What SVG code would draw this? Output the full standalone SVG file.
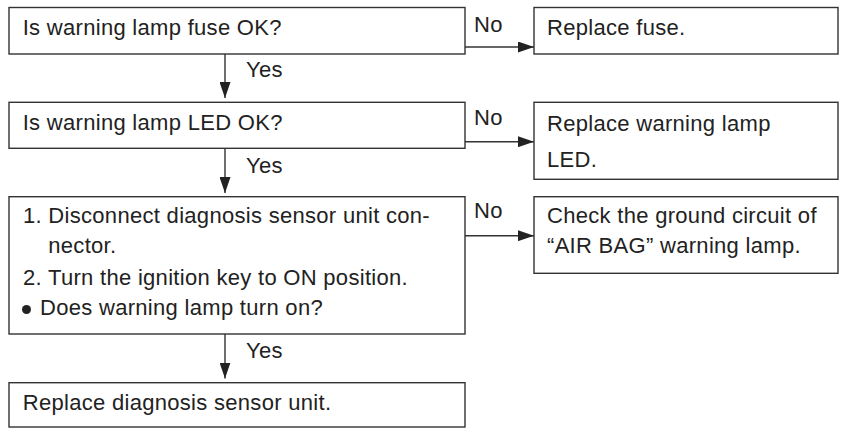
<svg xmlns="http://www.w3.org/2000/svg" width="842" height="429" viewBox="0 0 842 429">
<style>
.box{fill:#ffffff;stroke:#333333;stroke-width:1.4}
.ln{fill:none;stroke:#333333;stroke-width:1.4}
text{font-family:"Liberation Sans",Arial,Helvetica,sans-serif;font-size:22px;fill:#222222;letter-spacing:0.3px}
</style>
<defs>
<marker id="ah" markerWidth="16" markerHeight="11" refX="16" refY="5.5" orient="auto" markerUnits="userSpaceOnUse">
<path d="M0,0 L16,5.5 L0,11 Z" fill="#222222"/>
</marker>
</defs>
<rect width="842" height="429" fill="#ffffff"/>
<g id="connectors">
<line class="ln" x1="465" y1="47" x2="534" y2="47" marker-end="url(#ah)"/>
<line class="ln" x1="225" y1="54" x2="225" y2="98" marker-end="url(#ah)"/>
<line class="ln" x1="465" y1="141.7" x2="534" y2="141.7" marker-end="url(#ah)"/>
<line class="ln" x1="225" y1="148.3" x2="225" y2="193" marker-end="url(#ah)"/>
<line class="ln" x1="465" y1="235.7" x2="534" y2="235.7" marker-end="url(#ah)"/>
<line class="ln" x1="225" y1="334" x2="225" y2="378.5" marker-end="url(#ah)"/>
<text x="474" y="31.7">No</text>
<text x="246" y="77">Yes</text>
<text x="474" y="125">No</text>
<text x="246" y="173">Yes</text>
<text x="474" y="218">No</text>
<text x="246" y="358">Yes</text>
</g>
<g id="q1">
<rect class="box" x="9" y="7.5" width="456" height="46.5"/>
<text x="22.7" y="35">Is warning lamp fuse OK?</text>
</g>
<g id="a1">
<rect class="box" x="534" y="7.5" width="304" height="46.5"/>
<text x="547" y="35">Replace fuse.</text>
</g>
<g id="q2">
<rect class="box" x="9" y="102.3" width="456" height="46"/>
<text x="22.7" y="129.7">Is warning lamp LED OK?</text>
</g>
<g id="a2">
<rect class="box" x="534" y="102.3" width="304" height="77"/>
<text x="547" y="130.7">Replace warning lamp</text>
<text x="547" y="167">LED.</text>
</g>
<g id="q3">
<rect class="box" x="9" y="196.7" width="456" height="137.3"/>
<text x="23" y="223.3">1. Disconnect diagnosis sensor unit con-</text>
<text x="48.3" y="253.3">nector.</text>
<text x="23" y="285">2. Turn the ignition key to ON position.</text>
<circle cx="26.5" cy="309.5" r="4.5" fill="#222222"/>
<text x="40" y="315">Does warning lamp turn on?</text>
</g>
<g id="a3">
<rect class="box" x="534" y="196.7" width="304" height="76.6"/>
<text x="547" y="223.3">Check the ground circuit of</text>
<text x="547" y="252.7">“AIR BAG” warning lamp.</text>
</g>
<g id="end">
<rect class="box" x="9" y="382.7" width="456" height="44.3"/>
<text x="22.7" y="410">Replace diagnosis sensor unit.</text>
</g>
</svg>
